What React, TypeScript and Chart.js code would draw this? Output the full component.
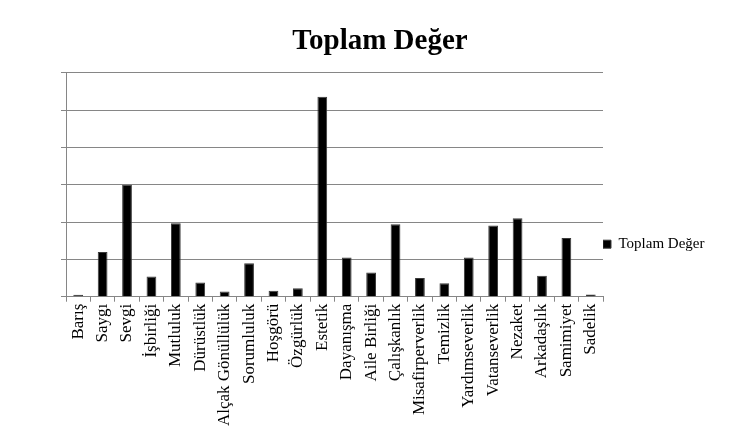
import React, { useEffect, useRef } from "react";
import { Chart, registerables } from "chart.js";

Chart.register(...registerables);

const categories = [
  "Barış", "Saygı", "Sevgi", "İşbirliği", "Mutluluk", "Dürüstlük", "Alçak Gönüllülük",
  "Sorumluluk", "Hoşgörü", "Özgürlük", "Estetik", "Dayanışma", "Aile Birliği",
  "Çalışkanlık", "Misafirperverlik", "Temizlik", "Yardımseverlik", "Vatanseverlik",
  "Nezaket", "Arkadaşlık", "Samimiyet", "Sadelik",
];
const seriesName = "Toplam Değer";
const values = [
  0.05, 1.2, 3.0, 0.54, 1.97, 0.38, 0.14, 0.9, 0.16, 0.23, 5.36, 1.05, 0.65,
  1.94, 0.5, 0.36, 1.05, 1.91, 2.1, 0.56, 1.57, 0.06,
];
const yMax = 6;
const yStep = 1;

const SERIF = "'Liberation Serif', 'Times New Roman', serif";
const LEGEND_WIDTH = 149;

const legendWidthPlugin = {
  id: "legendWidth",
  beforeLayout(chart: any) {
    const lg = chart.legend;
    if (lg && !lg.__patched) {
      const orig = lg.fit.bind(lg);
      lg.fit = function () {
        orig();
        this.width = LEGEND_WIDTH;
      };
      lg.__patched = true;
    }
  },
};

export default function App() {
  const ref = useRef<HTMLCanvasElement | null>(null);
  useEffect(() => {
    if (!ref.current) return;
    const chart = new Chart(ref.current, {
      type: "bar",
      data: {
        labels: categories,
        datasets: [
          {
            label: seriesName,
            data: values,
            backgroundColor: "#000000",
            borderColor: "#3a3a3a",
            borderWidth: 1,
            categoryPercentage: 1,
            barPercentage: 0.4,
          },
        ],
      },
      plugins: [legendWidthPlugin],
      options: {
        responsive: false,
        animation: false,
        layout: { padding: { left: 0, right: 0, top: 0, bottom: 10 } },
        plugins: {
          title: {
            display: true,
            text: seriesName,
            color: "#000",
            font: { family: SERIF, size: 29, weight: "bold" },
            padding: { top: 16, bottom: 14 },
          },
          legend: {
            position: "right",
            title: {
              display: true,
              text: " ",
              font: { family: SERIF, size: 12 },
              padding: 19,
            },
            labels: {
              color: "#000",
              boxWidth: 8,
              boxHeight: 8,
              padding: 0,
              font: { family: SERIF, size: 15 },
            },
          },
          tooltip: { enabled: false },
        },
        scales: {
          x: {
            grid: {
              display: true,
              drawOnChartArea: false,
              drawTicks: true,
              tickLength: 5,
              color: "#868686",
              offset: true,
            },
            border: { display: true, color: "#868686" },
            ticks: {
              autoSkip: false,
              minRotation: 90,
              maxRotation: 90,
              padding: 2,
              color: "#000",
              font: { family: SERIF, size: 17 },
            },
          },
          y: {
            min: 0,
            max: yMax,
            ticks: { display: false, stepSize: yStep },
            grid: { color: "#868686", tickLength: 5, drawTicks: true },
            border: { display: true, color: "#868686" },
            afterFit: (scale: any) => {
              scale.width = 58;
            },
          },
        },
      },
    });
    return () => chart.destroy();
  }, []);

  return (
    <div style={{ position: "relative", width: 734, height: 424, overflow: "hidden" }}>
      <div
        style={{
          position: "absolute",
          left: -1,
          top: -2,
          width: 760,
          height: 440,
          borderLeft: "1px solid #d9d9d9",
          borderTop: "1px solid #e6e6e6",
        }}
      />
      <canvas ref={ref} width={744} height={430} style={{ position: "absolute", left: 0, top: 0 }} />
    </div>
  );
}
